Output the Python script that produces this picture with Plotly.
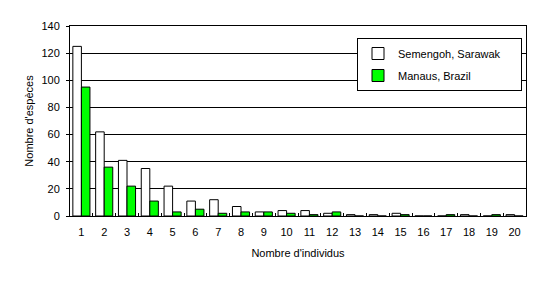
import plotly.graph_objects as go

categories = [str(i) for i in range(1, 21)]
semengoh = [125, 62, 41, 35, 22, 11, 12, 7, 3, 4, 4, 2, 1, 1, 2, 0, 0, 1, 0, 1]
manaus = [95, 36, 22, 11, 3, 5, 2, 3, 3, 2, 1, 3, 0, 0, 1, 0, 1, 0, 1, 0]
y_ticks = [0, 20, 40, 60, 80, 100, 120, 140]

FONT = "Arial, Liberation Sans, sans-serif"
PAD = "\u00a0" * 5

fig = go.Figure()
fig.add_trace(go.Bar(x=categories, y=semengoh, name="Semengoh, Sarawak" + PAD,
                     marker=dict(color="white", line=dict(color="black", width=1)),
                     legendgroup="a"))
fig.add_trace(go.Bar(x=categories, y=manaus, name="Manaus, Brazil",
                     marker=dict(color="#00ff00", line=dict(color="black", width=1)),
                     legendgroup="b"))

fig.update_layout(
    width=542, height=283,
    margin=dict(l=70, r=16, t=26, b=67),
    paper_bgcolor="white", plot_bgcolor="white",
    barmode="group", bargap=0.25, bargroupgap=0,
    font=dict(family=FONT, size=11, color="black"),
    showlegend=True,
    legend=dict(x=(357 - 70) / 456, xanchor="left", y=(216 - 38) / 190, yanchor="top",
                bgcolor="white", bordercolor="black", borderwidth=1,
                font=dict(family=FONT, size=11, color="black"),
                tracegroupgap=3),
    xaxis=dict(
        type="category", tickson="boundaries", ticks="inside", ticklen=3,
        tickcolor="black", showline=True, linecolor="black", linewidth=1,
        mirror=True, showgrid=False, ticklabelstandoff=6,
        title=dict(text="Nombre d'individus", font=dict(family=FONT, size=11), standoff=12),
        tickfont=dict(family=FONT, size=11),
    ),
    yaxis=dict(
        range=[0, 140], tickvals=y_ticks, ticks="outside", ticklen=3,
        tickcolor="black", showline=True, linecolor="black", linewidth=1,
        mirror=True, showgrid=True, gridcolor="black", gridwidth=1,
        zeroline=False, ticklabelstandoff=4,
        title=dict(text="Nombre d'espèces", font=dict(family=FONT, size=11), standoff=5),
        tickfont=dict(family=FONT, size=11),
    ),
)

fig.write_html("out.html")
